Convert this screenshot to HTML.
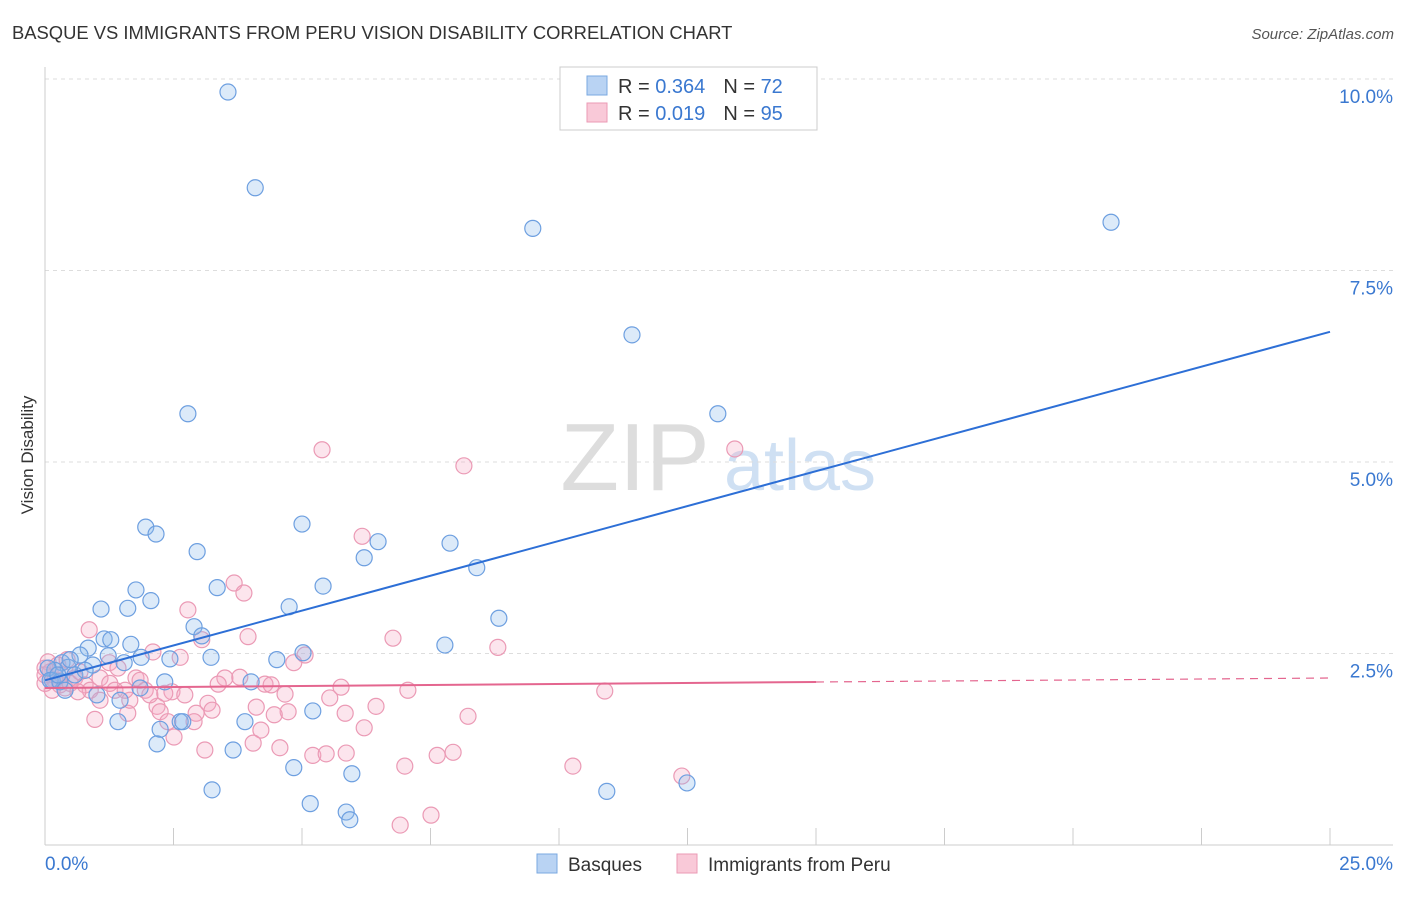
<!DOCTYPE html>
<html><head><meta charset="utf-8"><style>
body{margin:0;background:#fff;font-family:"Liberation Sans",sans-serif;}
svg text{font-family:"Liberation Sans",sans-serif;}
</style></head><body>
<svg id="chart" width="1406" height="892" viewBox="0 0 1406 892" xmlns="http://www.w3.org/2000/svg">
<text x="12" y="39" font-size="18.4" fill="#333">BASQUE VS IMMIGRANTS FROM PERU VISION DISABILITY CORRELATION CHART</text>
<text x="1394" y="39" font-size="15" fill="#555" font-style="italic" text-anchor="end">Source: ZipAtlas.com</text>
<text transform="translate(33,455) rotate(-90)" font-size="17" fill="#333" text-anchor="middle">Vision Disability</text>
<g>
<text x="635" y="490" font-size="96" fill="#ddd" font-family="Liberation Serif" text-anchor="middle">ZIP</text>
<text x="800" y="490" font-size="72" fill="#cfe0f3" text-anchor="middle">atlas</text>
</g>
<g id="grid"></g><g id="axes"></g><g id="pts"></g><g id="lines"></g>
<g>
<rect x="560" y="67" width="257" height="63" fill="#fff" stroke="#ccc"/>
<rect x="587" y="76" width="20" height="19" fill="#b9d3f3" stroke="#7aa8e0"/>
<rect x="587" y="103" width="20" height="19" fill="#f9c9d8" stroke="#eb9ab5"/>
<text x="618" y="93" font-size="20" fill="#333">R = <tspan fill="#3a78d0">0.364</tspan><tspan dx="18">N = </tspan><tspan fill="#3a78d0">72</tspan></text>
<text x="618" y="120" font-size="20" fill="#333">R = <tspan fill="#3a78d0"> 0.019</tspan><tspan dx="18">N = </tspan><tspan fill="#3a78d0">95</tspan></text>
</g>
<g>
<rect x="537" y="854" width="20" height="19" fill="#b9d3f3" stroke="#7aa8e0"/>
<text x="568" y="871" font-size="19" fill="#333">Basques</text>
<rect x="677" y="854" width="20" height="19" fill="#f9c9d8" stroke="#eb9ab5"/>
<text x="708" y="871" font-size="19" fill="#333">Immigrants from Peru</text>
</g>
</svg>
<script>
const xTicks=[0,2.5,5,7.5,10,12.5,15,17.5,20,22.5,25];
const yTicks=[2.5,5,7.5,10];
const yTickLabels=["2.5%","5.0%","7.5%","10.0%"];
const basqueX=[3.56,4.09,9.49,20.74,11.42,2.78,13.09,1.96,2.16,2.96,5.00,6.48,6.21,7.88,8.40,5.41,1.77,3.35,2.06,1.09,1.61,4.75,8.83,2.90,3.05,1.15,1.28,1.67,7.78,0.84,0.68,1.23,1.87,5.02,3.23,2.43,4.51,1.54,0.93,0.33,0.45,0.19,0.58,0.14,2.33,4.01,1.85,1.01,1.46,5.21,3.89,1.42,2.24,2.63,2.68,2.18,3.66,4.84,5.97,3.25,10.93,12.49,5.16,5.86,5.93,0.06,0.10,0.49,0.78,0.29,0.25,0.39];
const basqueY=[9.83,8.58,8.05,8.13,6.66,5.63,5.63,4.15,4.06,3.83,4.19,3.96,3.75,3.94,3.62,3.38,3.33,3.36,3.19,3.08,3.09,3.11,2.96,2.85,2.73,2.69,2.68,2.62,2.61,2.57,2.48,2.47,2.45,2.51,2.45,2.43,2.42,2.38,2.35,2.38,2.32,2.28,2.22,2.15,2.13,2.13,2.05,1.96,1.89,1.75,1.61,1.61,1.51,1.61,1.61,1.32,1.24,1.01,0.93,0.72,0.70,0.81,0.54,0.43,0.33,2.31,2.15,2.42,2.28,2.13,2.22,2.02];
const peruX=[5.39,8.15,13.42,6.17,3.68,3.87,2.78,0.86,3.05,3.95,6.77,8.81,5.06,2.63,2.10,1.25,1.42,4.84,1.77,3.50,3.79,3.37,4.28,4.40,5.76,7.06,10.89,4.67,5.54,3.17,4.11,2.18,2.47,1.61,1.65,2.24,4.73,6.44,2.94,3.25,4.46,5.84,0.97,2.90,2.39,4.20,6.21,2.51,4.05,3.11,4.57,5.21,5.47,5.86,7.63,7.94,7.00,10.27,12.39,7.51,6.91,0.06,0.10,0.19,0.29,0.39,0.49,0.58,0.68,0.78,0.88,1.07,1.26,1.36,1.85,1.95,2.04,0.14,0.25,0.33,1.07,1.56,2.33,2.72,0.0,0.0,0.43,0.64,8.23,0.0];
const peruY=[5.16,4.95,5.17,4.03,3.42,3.29,3.07,2.81,2.68,2.72,2.70,2.58,2.48,2.45,2.52,2.38,2.31,2.38,2.18,2.18,2.19,2.10,2.10,2.09,2.06,2.02,2.01,1.97,1.92,1.85,1.80,1.81,2.00,1.72,1.89,1.74,1.74,1.81,1.72,1.76,1.70,1.72,1.64,1.61,1.61,1.50,1.53,1.41,1.33,1.24,1.27,1.17,1.19,1.20,1.17,1.21,1.03,1.03,0.90,0.39,0.26,2.39,2.26,2.15,2.09,2.05,2.11,2.18,2.26,2.09,2.02,2.18,2.11,2.02,2.15,2.02,1.96,2.02,2.35,2.22,1.89,2.02,1.98,1.96,2.31,2.11,2.42,2.00,1.68,2.22];
const basqueTrend=[2.15,0.182];
const peruTrend=[2.05,0.0052];
const NS="http://www.w3.org/2000/svg";
const X0=45,X1=1330,Y0=845,PXY=76.6;
function sx(v){return X0+(X1-X0)*v/25;}
function sy(v){return Y0-v*PXY;}
function mk(t,a,p){const e=document.createElementNS(NS,t);for(const k in a)e.setAttribute(k,a[k]);p.appendChild(e);return e;}
const grid=document.getElementById('grid'),axes=document.getElementById('axes'),pts=document.getElementById('pts'),lines=document.getElementById('lines');
yTicks.forEach((v,i)=>{
 const l=mk('line',{x1:X0,x2:1393,y1:sy(v),y2:sy(v),stroke:'#ddd','stroke-dasharray':'4,4'},grid);
 
 
 const t=mk('text',{x:1393,y:sy(v)+24,'font-size':19,fill:'#3a78d0','text-anchor':'end'},axes);
 t.textContent=yTickLabels[i];
 
 
});
mk('line',{x1:X0,x2:X0,y1:67,y2:Y0,stroke:'#ccc'},axes);
mk('line',{x1:X0,x2:1393,y1:Y0,y2:Y0,stroke:'#ccc'},axes);
xTicks.forEach(v=>{
 const l=mk('line',{x1:sx(v),x2:sx(v),y1:828,y2:Y0,stroke:'#ccc'},axes);
 
 
});
const xl=mk('text',{x:45,y:870,'font-size':19,fill:'#3a78d0'},axes);xl.textContent='0.0%';


const xr=mk('text',{x:1393,y:870,'font-size':19,fill:'#3a78d0','text-anchor':'end'},axes);xr.textContent='25.0%';


peruX.forEach((x,i)=>{
 const c=mk('circle',{cx:sx(x),cy:sy(peruY[i]),r:8,fill:'rgba(244,170,196,0.3)',stroke:'#eb9ab5','stroke-width':1.2},pts);
 
 
});
basqueX.forEach((x,i)=>{
 const c=mk('circle',{cx:sx(x),cy:sy(basqueY[i]),r:8,fill:'rgba(140,184,236,0.3)',stroke:'#6d9fe0','stroke-width':1.2},pts);
 
 
});
const bl=mk('line',{x1:sx(0),y1:sy(basqueTrend[0]),x2:sx(25),y2:sy(basqueTrend[0]+25*basqueTrend[1]),stroke:'#2d6fd6','stroke-width':2},lines);


const pl=mk('line',{x1:sx(0),y1:sy(peruTrend[0]),x2:sx(15),y2:sy(peruTrend[0]+15*peruTrend[1]),stroke:'#e4668f','stroke-width':2},lines);


const pd=mk('line',{x1:sx(15),y1:sy(peruTrend[0]+15*peruTrend[1]),x2:sx(25),y2:sy(peruTrend[0]+25*peruTrend[1]),stroke:'#e4668f','stroke-width':1.2,'stroke-dasharray':'8,6'},lines);


</script>
</body></html>
